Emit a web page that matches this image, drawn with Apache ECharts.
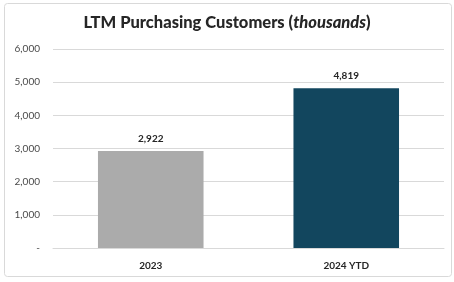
<!DOCTYPE html>
<html><head><meta charset="utf-8">
<script src="https://cdn.jsdelivr.net/npm/echarts@6/dist/echarts.min.js"></script>
<style>html,body{margin:0;padding:0;background:#fff}#c{width:454px;height:282px}</style>
</head><body><div id="c"></div>
<script>
const categories = ['2023', '2024 YTD'];
const values = [2922, 4819];
const barColors = ['#ABABAB', '#12465E'];
const yTicks = [0, 1000, 2000, 3000, 4000, 5000, 6000];

const chart = echarts.init(document.getElementById('c'));
chart.setOption({
  animation: false,
  graphic: [{type:'rect', shape:{x:4.5,y:3.5,width:447,height:273,r:3}, style:{fill:'none',stroke:'#D9D9D9',lineWidth:1}}],
  title: {
    text: '{b|LTM Purchasing Customers (}{i|thousands}{b|)}',
    left: 'center', top: 9,
    textStyle: {
      rich: {
        b: {fontFamily:'Lato', fontWeight:900, fontSize:16.5, color:'#262626'},
        i: {fontFamily:'Lato', fontWeight:900, fontStyle:'italic', fontSize:16.5, color:'#262626'}
      }
    }
  },
  grid: {left: 53, right: 10, top: 49, bottom: 34, containLabel: false},
  xAxis: {
    type: 'category', data: categories,
    axisLine: {lineStyle:{color:'#D9D9D9'}}, axisTick: {show:false},
    axisLabel: {fontFamily:'Lato', fontWeight:'bold', fontSize:10, color:'#262626', margin:13}
  },
  yAxis: {
    type: 'value', min: yTicks[0], max: yTicks[yTicks.length-1], interval: 1000,
    axisLine:{show:false}, axisTick:{show:false},
    splitLine: {lineStyle:{color:'#D9D9D9'}},
    axisLabel: {fontFamily:'Lato', fontSize:10, color:'#4a4a4a', margin:13,
      formatter: v => v === 0 ? '-' : v.toLocaleString('en-US')}
  },
  series: [{
    type: 'bar', barWidth: '54%',
    data: values.map((v,i) => ({value:v, itemStyle:{color:barColors[i]}})),
    label: {show:true, position:'top', distance:7, fontFamily:'Lato', fontWeight:'bold', fontSize:10, color:'#262626',
      formatter: p => p.value.toLocaleString('en-US')}
  }]
});
</script></body></html>
